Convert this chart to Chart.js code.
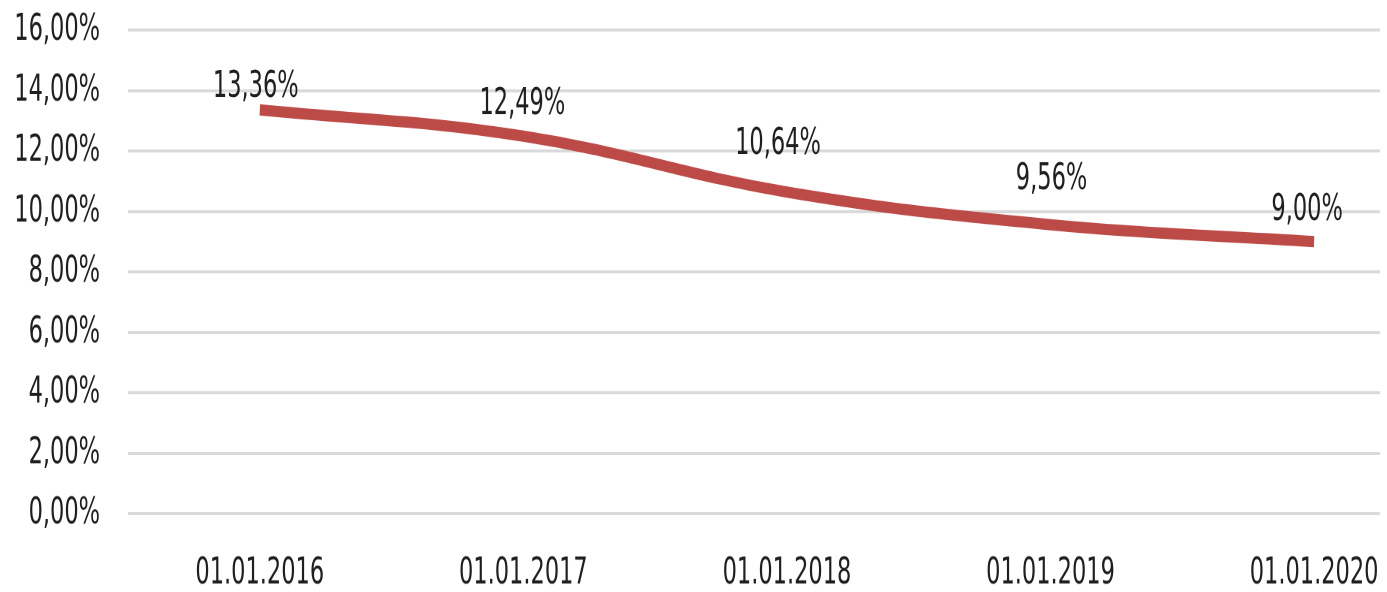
<!DOCTYPE html>
<html>
<head>
<meta charset="utf-8">
<script src="https://cdn.jsdelivr.net/npm/chart.js@4/dist/chart.umd.min.js"></script>
<style>
    html, body { margin: 0; padding: 0; background: #fff; overflow: hidden; }
    body { width: 1387px; height: 592px; }
    /* the reference is a vertically stretched picture, so the chart is drawn flat and stretched */
    #wrap { position: relative; width: 1387px; height: 394.667px; transform: scaleY(1.5); transform-origin: 0 0; }
</style>
</head>
<body>
<div id="wrap"><canvas id="rateChart"></canvas></div>
<script>

const dates = ['01.01.2016', '01.01.2017', '01.01.2018', '01.01.2019', '01.01.2020'];
const rates = [13.36, 12.49, 10.64, 9.56, 9.00];
const yTicks = [0, 2, 4, 6, 8, 10, 12, 14, 16];

const fontFamily = '"DejaVu Sans Condensed", "Liberation Sans Narrow", sans-serif';
const textColor = '#1f1f1f';

const fmt = (v) => v.toFixed(2).replace('.', ',') + '%';

// label lift above each point (Excel labels were nudged by hand)
const labelLift = [15, 21, 32, 30, 21];
const labelShift = [-4, -1, -9, 1, -7];

const pointLabels = {
    id: 'pointLabels',
    afterDatasetsDraw(chart) {
        const { ctx } = chart;
        const meta = chart.getDatasetMeta(0);
        ctx.save();
        ctx.font = '25px ' + fontFamily;
        ctx.fillStyle = textColor;
        ctx.textAlign = 'center';
        ctx.textBaseline = 'middle';
        meta.data.forEach((pt, i) => {
            ctx.fillText(fmt(rates[i]), pt.x + labelShift[i], pt.y - labelLift[i]);
        });
        ctx.restore();
    }
};

new Chart(document.getElementById('rateChart'), {
    type: 'line',
    data: {
        datasets: [
            {
                data: rates.map((v, i) => ({ x: i, y: v })),
                borderColor: '#BC4A47',
                borderWidth: 7.5,
                borderCapStyle: 'butt',
                tension: 0.4,
                pointRadius: 0,
                fill: false
            }
        ]
    },
    options: {
        responsive: true,
        maintainAspectRatio: false,
        animation: false,
        devicePixelRatio: 2,
        layout: {
            padding: { top: 20, right: 7, left: 0, bottom: 0 }
        },
        plugins: {
            legend: { display: false },
            tooltip: { enabled: false }
        },
        scales: {
            x: {
                type: 'linear',
                min: -0.5,
                max: 4.25,
                afterBuildTicks: (scale) => {
                    scale.ticks = dates.map((d, i) => ({ value: i }));
                },
                afterFit: (scale) => {
                    scale.height = 52.7;
                    scale.paddingLeft = 0;
                    scale.paddingRight = 0;
                },
                grid: { display: false, drawTicks: false },
                border: { display: false },
                ticks: {
                    autoSkip: false,
                    maxRotation: 0,
                    padding: 25,
                    color: textColor,
                    font: { family: fontFamily, size: 25 },
                    callback: (v) => dates[v]
                }
            },
            y: {
                min: 0,
                max: 16,
                afterBuildTicks: (scale) => {
                    scale.ticks = yTicks.map(v => ({ value: v }));
                },
                afterFit: (scale) => {
                    scale.width = 128;
                    scale.paddingTop = 0;
                    scale.paddingBottom = 0;
                },
                grid: { color: '#D9D9D9', lineWidth: 2, drawTicks: false },
                border: { display: false },
                ticks: {
                    padding: 28,
                    color: textColor,
                    font: { family: fontFamily, size: 25 },
                    callback: (v) => fmt(v)
                }
            }
        }
    },
    plugins: [pointLabels]
});

</script>
</body>
</html>
